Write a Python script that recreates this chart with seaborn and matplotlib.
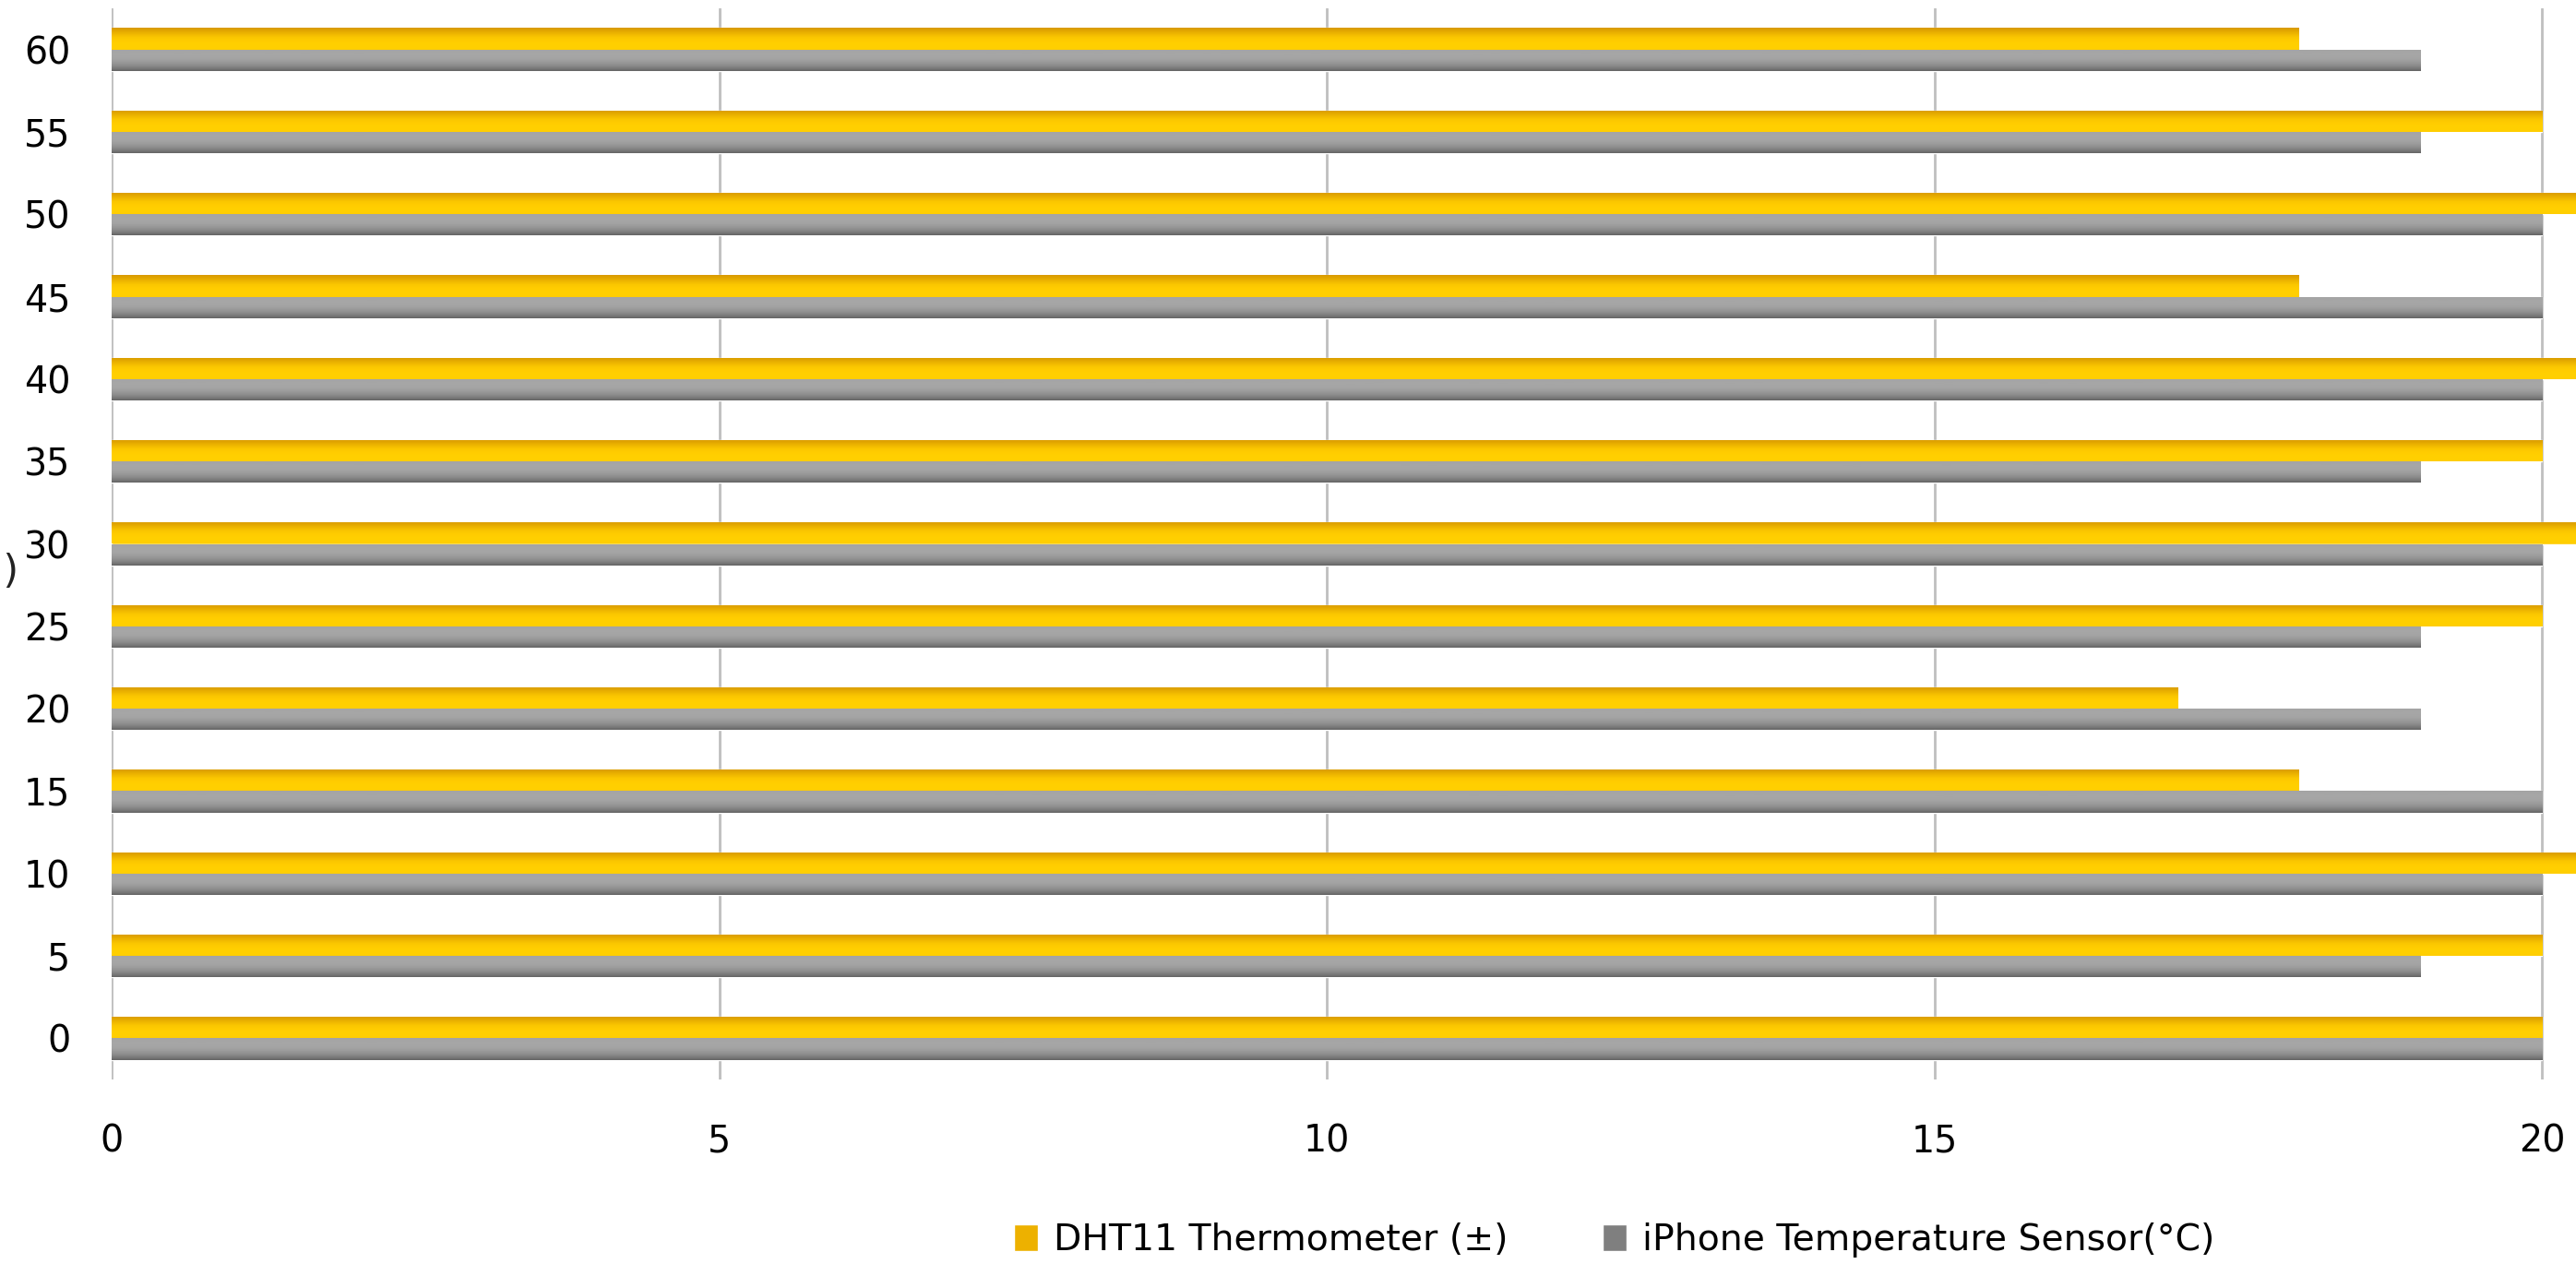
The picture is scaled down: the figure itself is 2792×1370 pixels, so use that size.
import numpy as np
import pandas as pd
import matplotlib
matplotlib.use("Agg")
import matplotlib.pyplot as plt
from matplotlib.colors import to_rgb
from matplotlib.transforms import Bbox, TransformedBbox
import seaborn as sns

# Readings taken every 5 units of time
times = [60, 55, 50, 45, 40, 35, 30, 25, 20, 15, 10, 5, 0]
dht11 = [18, 20, 21, 18, 21, 20, 21, 20, 17, 18, 21, 20, 20]
iphone = [19, 19, 20, 20, 20, 19, 20, 19, 19, 20, 20, 19, 20]
series_names = ["DHT11 Thermometer (±)", "iPhone Temperature Sensor(°C)"]
x_ticks = [0, 5, 10, 15, 20]

df = pd.DataFrame({
    "time": [str(t) for t in times] * 2,
    "value": dht11 + iphone,
    "series": [series_names[0]] * len(times) + [series_names[1]] * len(times),
})

sns.set_theme(style="white")
plt.rcParams["font.family"] = ["DejaVu Sans"]

W, H, DPI = 2792, 1370, 100
fig = plt.figure(figsize=(W / DPI, H / DPI), dpi=DPI)
ax = fig.add_axes([121 / W, 1 - 1170 / H, 1 - 121 / W, (1170 - 9) / H])

palette = {series_names[0]: "#FFCC00", series_names[1]: "#A6A6A6"}
sns.barplot(data=df, x="value", y="time", hue="series", order=[str(t) for t in times],
            hue_order=series_names, palette=palette, orient="h", width=0.52,
            dodge=True, gap=0, saturation=1, errorbar=None, ax=ax, legend=True, zorder=3)

handles, labels = ax.get_legend_handles_labels()
ax.get_legend().remove()

# vertical shading for each bar (top -> bottom)
yellow_stops = ["#D99A00", "#E3A800", "#F0B800", "#FAC600", "#FFCC00", "#FFCF00", "#FFD000", "#FFCD00"]
gray_stops = ["#A3A3A3", "#A6A6A6", "#A6A6A6", "#A4A4A4", "#9C9C9C", "#909090", "#7E7E7E", "#666666"]


def grad(stops, n=40):
    cols = np.array([to_rgb(c) for c in stops])
    pos = np.linspace(0, 1, len(stops))
    t = np.linspace(0, 1, n)
    arr = np.stack([np.interp(t, pos, cols[:, k]) for k in range(3)], axis=1)
    return arr[:, None, :]


yellow_img = grad(yellow_stops)
gray_img = grad(gray_stops)
for i, p in enumerate(ax.patches):
    if p.get_width() <= 0:
        continue
    img = yellow_img if i < len(times) else gray_img
    x0, y0 = p.get_x(), p.get_y()
    w, h = p.get_width(), p.get_height()
    im = ax.imshow(img, extent=(x0, x0 + w, y0 + h, y0), origin="upper",
                   aspect="auto", interpolation="bilinear", zorder=4)
    im.set_clip_path(p)

ax.set_xlim(0, 20.28)
ax.set_ylim(12.5, -0.5)
ax.set_xticks(x_ticks)
ax.set_xticklabels([str(v) for v in x_ticks])
ax.set_xlabel("")
ax.set_ylabel("")
for s in ax.spines.values():
    s.set_visible(False)
ax.grid(axis="x", color="#BFBFBF", linewidth=2, zorder=0)
ax.grid(axis="y", visible=False)
ax.set_axisbelow(True)
ax.tick_params(axis="both", length=0, labelsize=28.5, labelcolor="black")
ax.tick_params(axis="x", pad=34)
ax.tick_params(axis="y", pad=32)

# axis title sits mostly past the left edge; only its closing bracket shows
ylab = fig.text(20 / W, 1 - 620 / H, "Time (min)", ha="right", va="center",
                fontsize=31, color="#222222")
ylab.set_clip_box(TransformedBbox(Bbox([[5 / W, 0], [60 / W, 1]]), fig.transFigure))
ylab.set_clip_on(True)

leg = fig.legend(handles, labels, loc="center", bbox_to_anchor=(1750 / W, 1 - 1344 / H),
                 ncol=2, frameon=False, handlelength=0.66, handleheight=0.76,
                 handletextpad=0.43, columnspacing=2.6, borderpad=0, fontsize=28.4)
for t in leg.get_texts():
    t.set_color("black")
leg.legend_handles[0].set_facecolor("#EDB100")
leg.legend_handles[1].set_facecolor("#7F7F7F")

fig.savefig("out.png", dpi=DPI)
